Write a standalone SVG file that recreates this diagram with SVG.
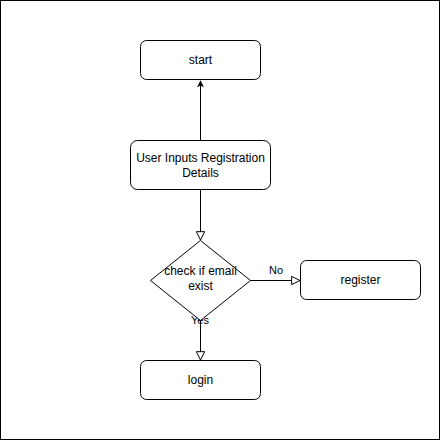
<svg xmlns="http://www.w3.org/2000/svg" width="441" height="441" viewBox="0 0 441 441">
<style>
.node{fill:#fff;stroke:#000;stroke-width:1}
.t{font-family:"Liberation Sans",Arial,sans-serif;font-size:12px;fill:#000;text-anchor:middle}
.e{fill:none;stroke:#000;stroke-width:1}
</style>
<defs>
<marker id="filled" viewBox="0 0 10 10" refX="9" refY="5" markerWidth="7" markerHeight="7" markerUnits="userSpaceOnUse" orient="auto"><path d="M0,0 L10,5 L0,10 L2.5,5 Z" fill="#000"/></marker>
<marker id="open" viewBox="0 0 12 12" refX="11" refY="6" markerWidth="10" markerHeight="10" markerUnits="userSpaceOnUse" orient="auto"><path d="M1,1 L11,6 L1,11 Z" fill="#fff" stroke="#000" stroke-width="1.2"/></marker>
</defs>
<rect x="0.5" y="0.5" width="439" height="439" fill="#fff" stroke="#000"/>
<g id="connectors">
<path class="e" d="M200.5,140 L200.5,81" marker-end="url(#filled)"/>
<path class="e" d="M200.5,190 L200.5,240" marker-end="url(#open)"/>
<path class="e" d="M250,280.5 L300,280.5" marker-end="url(#open)"/>
<path class="e" d="M200.5,320 L200.5,360" marker-end="url(#open)"/>
<text class="t" x="276" y="274" font-size="11" style="font-size:11px">No</text>
<text class="t" x="200" y="324" style="font-size:11px">Yes</text>
</g>
<g id="start"><rect class="node" x="140.5" y="40.5" width="120" height="39" rx="6"/><text class="t" x="200.5" y="64">start</text></g>
<g id="input"><rect class="node" x="130.5" y="140.5" width="140" height="49" rx="7"/><text class="t" x="200.5" y="162">User Inputs Registration</text><text class="t" x="200.5" y="177">Details</text></g>
<g id="check"><path class="node" d="M200.5,240.5 L250.5,280.5 L200.5,320.5 L150.5,280.5 Z"/><text class="t" x="200.5" y="275">check if email</text><text class="t" x="200.5" y="290">exist</text></g>
<g id="register"><rect class="node" x="300.5" y="260.5" width="120" height="39" rx="6"/><text class="t" x="360.5" y="284">register</text></g>
<g id="login"><rect class="node" x="140.5" y="360.5" width="120" height="39" rx="6"/><text class="t" x="200.5" y="384">login</text></g>
</svg>
